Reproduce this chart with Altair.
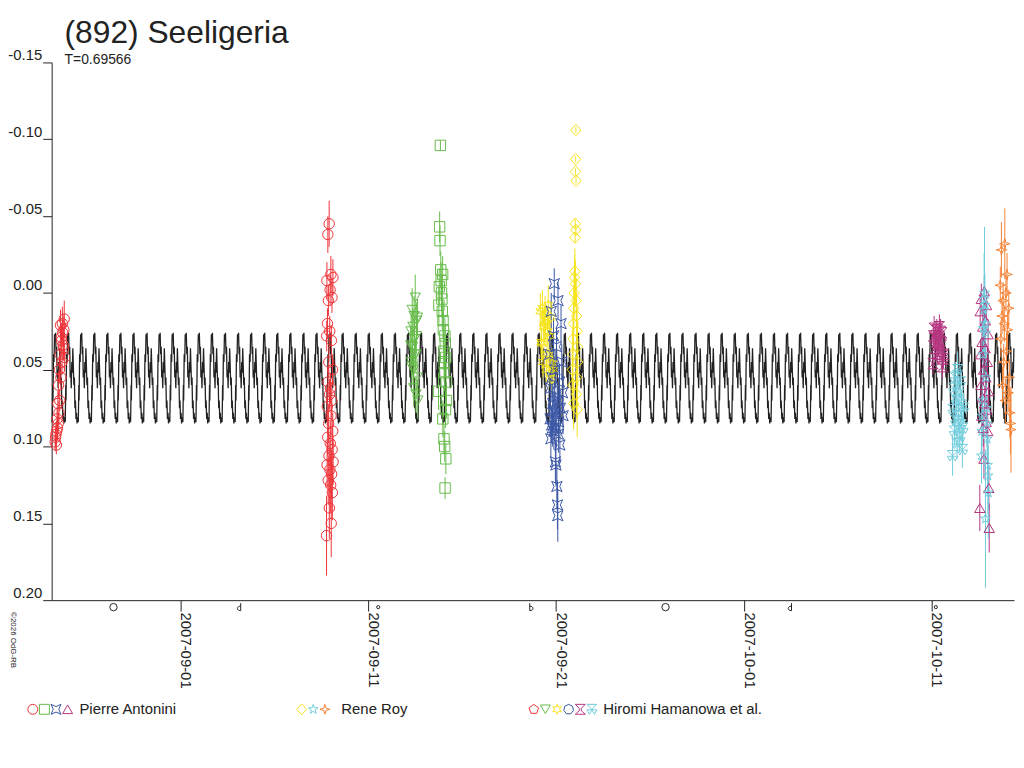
import altair as alt
import pandas as pd

BASE = pd.Timestamp("2007-09-01")
PERIOD = 0.69566
D0, D1 = -6.85, 44.37  # x-domain, days from 2007-09-01

# ---- composite lightcurve, one period (phase, mag) ----
profile_phase = [0.00, 0.04, 0.08, 0.10, 0.14, 0.18, 0.22, 0.26, 0.30, 0.34, 0.38, 0.42, 0.46,
                 0.50, 0.54, 0.58, 0.62, 0.66, 0.70, 0.74, 0.78, 0.82, 0.86, 0.90, 0.94, 0.98]
profile_mag = [0.083, 0.084, 0.060, 0.070, 0.040, 0.045, 0.027, 0.030, 0.026, 0.040, 0.035, 0.055,
               0.050, 0.062, 0.045, 0.052, 0.036, 0.048, 0.060, 0.055, 0.075, 0.070, 0.082, 0.078,
               0.085, 0.081]

# ---- observations: time (days from 2007-09-01), mag, error ----
c1_t = [-6.62, -6.66, -6.58, -6.64, -6.54, -6.60, -6.50, -6.56, -6.46, -6.52, -6.42, -6.48, -6.36,
        -6.44, -6.30, -6.40, -6.24, -6.34, -6.20, -6.28, -6.18, -6.38, -6.26, -6.32, -6.22, -6.16]
c1_m = [0.092, 0.097, 0.090, 0.094, 0.088, 0.099, 0.085, 0.082, 0.078, 0.072, 0.070, 0.060, 0.055,
        0.050, 0.045, 0.040, 0.034, 0.029, 0.024, 0.020, 0.017, 0.021, 0.026, 0.031, 0.036, 0.042]
c1_e = [0.008, 0.006, 0.007, 0.006, 0.008, 0.006, 0.007, 0.007, 0.008, 0.008, 0.007, 0.009, 0.008,
        0.009, 0.008, 0.009, 0.010, 0.009, 0.010, 0.011, 0.012, 0.010, 0.009, 0.010, 0.008, 0.009]

c2_t = [7.92, 7.85, 8.01, 7.80, 7.97, 8.07, 7.88, 8.12, 7.83, 7.95, 8.04, 7.79, 7.90, 8.10, 7.86,
        7.99, 8.06, 7.82, 7.94, 8.02, 7.89, 8.11, 7.84, 7.98, 8.08, 7.91, 8.13, 7.81, 7.96, 8.05,
        7.87, 8.00, 8.09, 7.93, 8.03, 7.78]
c2_m = [-0.045, -0.038, -0.012, -0.008, -0.002, 0.003, 0.005, -0.010, 0.020, 0.025, 0.031, 0.028,
        0.045, 0.050, 0.058, 0.062, 0.070, 0.074, 0.066, 0.080, 0.085, 0.090, 0.094, 0.098, 0.102,
        0.106, 0.110, 0.112, 0.115, 0.118, 0.122, 0.125, 0.130, 0.140, 0.150, 0.158]
c2_e = [0.015, 0.012, 0.012, 0.012, 0.010, 0.010, 0.010, 0.012, 0.010, 0.010, 0.010, 0.010, 0.010,
        0.010, 0.010, 0.010, 0.012, 0.012, 0.010, 0.012, 0.012, 0.012, 0.012, 0.014, 0.014, 0.014,
        0.015, 0.015, 0.015, 0.016, 0.016, 0.018, 0.018, 0.020, 0.022, 0.026]

c3_t = [12.40, 12.30, 12.52, 12.36, 12.46, 12.28, 12.58, 12.44, 12.34, 12.50, 12.62, 12.38, 12.56,
        12.26, 12.48, 12.32, 12.60, 12.42, 12.54, 12.64]
c3_m = [0.050, 0.045, 0.040, 0.035, 0.030, 0.025, 0.018, 0.015, 0.011, 0.003, 0.016, 0.022, 0.028,
        0.034, 0.040, 0.048, 0.055, 0.062, 0.066, 0.070]
c3_e = [0.010, 0.010, 0.010, 0.012, 0.012, 0.012, 0.012, 0.013, 0.014, 0.015, 0.012, 0.012, 0.012,
        0.012, 0.012, 0.012, 0.012, 0.012, 0.012, 0.012]

c4_t = [13.84, 13.80, 13.82, 13.86, 13.96, 13.88, 13.78, 13.90, 13.92, 13.76, 13.94, 13.98, 14.00,
        14.08, 14.10, 14.02, 14.12, 14.04, 14.06, 14.14, 13.74, 14.16, 14.11, 13.97, 14.03, 14.07,
        14.13, 14.09]
c4_m = [-0.096, -0.043, -0.034, -0.015, -0.012, -0.008, -0.004, 0.000, 0.004, 0.008, 0.012, 0.018,
        0.024, 0.028, 0.033, 0.038, 0.042, 0.046, 0.052, 0.058, 0.064, 0.070, 0.076, 0.082, 0.095,
        0.100, 0.108, 0.127]
c4_e = [0.003, 0.010, 0.010, 0.012, 0.012, 0.012, 0.012, 0.012, 0.012, 0.012, 0.012, 0.012, 0.012,
        0.012, 0.012, 0.012, 0.012, 0.012, 0.012, 0.012, 0.012, 0.012, 0.012, 0.012, 0.010, 0.010,
        0.010, 0.007]

c5_t = [19.48, 19.30, 19.62, 19.20, 19.55, 19.37, 19.72, 19.41, 19.27, 19.58, 19.16, 19.44, 19.34,
        19.65, 19.23, 19.51, 19.80, 19.69, 19.76, 19.84]
c5_m = [0.050, 0.045, 0.040, 0.032, 0.025, 0.020, 0.016, 0.014, 0.010, 0.008, 0.012, 0.018, 0.022,
        0.028, 0.033, 0.040, 0.046, 0.052, 0.056, 0.050]
c5_e = [0.010, 0.010, 0.010, 0.010, 0.010, 0.011, 0.011, 0.012, 0.012, 0.013, 0.012, 0.011, 0.011,
        0.010, 0.010, 0.010, 0.010, 0.010, 0.010, 0.010]

c6_t = [19.90, 20.10, 19.74, 20.26, 19.86, 20.02, 19.66, 20.30, 19.94, 19.78, 20.18, 19.70, 20.34,
        19.92, 20.06, 19.82, 20.22, 19.98, 20.37, 19.68, 20.14, 19.76, 20.00, 19.88, 20.12, 19.72,
        20.20, 19.80, 19.84, 19.96, 19.99, 20.04, 20.07, 20.09]
c6_m = [-0.006, 0.005, 0.012, 0.020, 0.028, 0.035, 0.040, 0.045, 0.050, 0.055, 0.058, 0.062, 0.065,
        0.068, 0.070, 0.072, 0.075, 0.078, 0.080, 0.082, 0.084, 0.086, 0.088, 0.090, 0.092, 0.095,
        0.099, 0.088, 0.076, 0.110, 0.112, 0.126, 0.138, 0.145]
c6_e = [0.010, 0.012, 0.012, 0.012, 0.012, 0.012, 0.012, 0.012, 0.012, 0.012, 0.012, 0.012, 0.012,
        0.012, 0.012, 0.012, 0.012, 0.012, 0.012, 0.012, 0.012, 0.012, 0.012, 0.012, 0.012, 0.012,
        0.012, 0.012, 0.012, 0.014, 0.014, 0.015, 0.016, 0.017]

c7_t = [21.05, 21.04, 21.03, 21.06, 21.02, 21.05, 21.01, 21.00, 20.98, 21.03, 20.96, 21.07, 20.94,
        21.09, 20.92, 21.11, 20.90, 21.13, 20.88, 21.15, 20.86, 21.10, 20.89, 21.08, 20.93, 21.12]
c7_m = [-0.106, -0.087, -0.079, -0.073, -0.045, -0.041, -0.036, -0.014, -0.010, -0.006, 0.000, 0.005,
        0.010, 0.015, 0.020, 0.025, 0.030, 0.035, 0.040, 0.045, 0.050, 0.055, 0.060, 0.066, 0.072, 0.076]
c7_e = [0.002, 0.002, 0.002, 0.002, 0.003, 0.003, 0.003, 0.015, 0.015, 0.015, 0.015, 0.015, 0.015,
        0.015, 0.015, 0.015, 0.015, 0.015, 0.015, 0.015, 0.015, 0.015, 0.016, 0.016, 0.017, 0.018]

c8_t = [40.33, 40.19, 40.46, 40.12, 40.40, 40.26, 40.53, 40.09, 40.36, 40.23, 40.50, 40.16, 40.43,
        40.29, 40.60, 40.06, 40.56, 40.63]
c8_m = [0.032, 0.028, 0.025, 0.023, 0.022, 0.024, 0.026, 0.028, 0.030, 0.032, 0.034, 0.036, 0.038,
        0.040, 0.043, 0.046, 0.048, 0.040]
c8_e = [0.007, 0.007, 0.008, 0.008, 0.008, 0.007, 0.007, 0.007, 0.007, 0.007, 0.007, 0.007, 0.007,
        0.007, 0.007, 0.007, 0.008, 0.007]

c9_t = [41.37, 41.24, 41.51, 41.17, 41.44, 41.30, 41.58, 41.13, 41.41, 41.27, 41.55, 41.20, 41.48,
        41.34, 41.62, 41.10, 41.65, 41.68]
c9_m = [0.050, 0.055, 0.058, 0.062, 0.066, 0.070, 0.073, 0.076, 0.080, 0.083, 0.086, 0.090, 0.094,
        0.098, 0.102, 0.106, 0.088, 0.075]
c9_e = [0.012, 0.010, 0.010, 0.010, 0.010, 0.010, 0.010, 0.010, 0.010, 0.010, 0.010, 0.010, 0.010,
        0.010, 0.012, 0.013, 0.010, 0.010]

c10_t = [42.79, 42.63, 42.91, 42.57, 42.85, 42.71, 42.99, 42.67, 42.83, 42.59, 42.95, 42.75, 42.87,
         42.61, 43.01, 42.69, 42.81, 42.93, 42.65, 42.89, 42.73, 42.97, 42.77, 43.03, 42.55, 43.05]
c10_m = [-0.001, 0.004, 0.008, 0.012, 0.018, 0.022, 0.027, 0.032, 0.036, 0.040, 0.045, 0.050, 0.055,
         0.060, 0.064, 0.068, 0.072, 0.076, 0.080, 0.084, 0.088, 0.090, 0.108, 0.127, 0.140, 0.153]
c10_e = [0.010, 0.010, 0.010, 0.010, 0.010, 0.010, 0.010, 0.010, 0.010, 0.010, 0.010, 0.010, 0.010,
         0.010, 0.010, 0.010, 0.010, 0.010, 0.010, 0.010, 0.012, 0.012, 0.013, 0.014, 0.015, 0.016]

c11_t = [42.80, 42.78, 42.82, 42.76, 42.84, 42.74, 42.86, 42.72, 42.88, 42.70, 42.90, 42.68, 42.92,
         42.66, 42.94, 42.64, 42.96, 42.98, 43.00, 42.85]
c11_m = [0.000, 0.004, 0.008, 0.011, 0.020, 0.023, 0.026, 0.040, 0.055, 0.070, 0.075, 0.080, 0.085,
         0.090, 0.095, 0.106, 0.112, 0.119, 0.130, 0.147]
c11_e = [0.043, 0.030, 0.020, 0.015, 0.015, 0.015, 0.015, 0.015, 0.015, 0.015, 0.015, 0.015, 0.015,
         0.015, 0.015, 0.018, 0.020, 0.025, 0.030, 0.045]

c12_t = [43.88, 43.70, 44.00, 43.64, 43.94, 43.79, 44.09, 43.73, 43.85, 44.03, 43.67, 43.97, 43.82,
         44.12, 43.76, 44.06, 43.91, 44.15, 44.18, 44.21]
c12_m = [-0.032, -0.028, -0.012, -0.005, 0.000, 0.005, 0.010, 0.015, 0.020, 0.024, 0.030, 0.038,
         0.045, 0.055, 0.060, 0.065, 0.070, 0.078, 0.085, 0.089]
c12_e = [0.023, 0.018, 0.014, 0.012, 0.012, 0.012, 0.012, 0.012, 0.012, 0.012, 0.012, 0.012, 0.012,
         0.012, 0.012, 0.012, 0.014, 0.016, 0.020, 0.028]

# ---- symbols & colours ----
RED, GREEN, BLUE, MAGENTA = "#EE3338", "#66BB4A", "#3A55A4", "#B5357F"
YELLOW, CYAN, ORANGE, INK = "#F5E31C", "#6FCCDD", "#F58233", "#222222"

SHAPES = {
    "circle": "circle",
    "square": "square",
    "xsquare": "M-1,-1L0,-0.55L1,-1L0.55,0L1,1L0,0.55L-1,1L-0.55,0Z",
    "tri_up": "triangle-up",
    "diamond": "M0,-1.1L1,0L0,1.1L-1,0Z",
    "star5": "M0,-1L0.235,-0.324L0.951,-0.309L0.38,0.124L0.588,0.809L0,0.4L-0.588,0.809L-0.38,0.124L-0.951,-0.309L-0.235,-0.324Z",
    "star4": "M0,-1L0.22,-0.22L1,0L0.22,0.22L0,1L-0.22,0.22L-1,0L-0.22,-0.22Z",
    "pentagon": "M0,-1L0.951,-0.309L0.588,0.809L-0.588,0.809L-0.951,-0.309Z",
    "tri_down": "triangle-down",
    "star6": "M0,-1L0.25,-0.433L0.866,-0.5L0.5,0L0.866,0.5L0.25,0.433L0,1L-0.25,0.433L-0.866,0.5L-0.5,0L-0.866,-0.5L-0.25,-0.433Z",
    "heptagon": "M0,-1L0.78,-0.62L0.97,0.22L0.43,0.9L-0.43,0.9L-0.97,0.22L-0.78,-0.62Z",
    "hourglass": "M-1,-1L1,-1L0.2,-0.2L0.2,0.3L1,1L-1,1L-0.2,0.3L-0.2,-0.2Z",
    "tri3": "M-1,-1L1,-1L0,0Z M-1,0.1L0,0.1L-0.5,1Z M0,0.1L1,0.1L0.5,1Z",
}

clusters = [
    (c1_t, c1_m, c1_e, RED, "circle"),
    (c2_t, c2_m, c2_e, RED, "circle"),
    (c3_t, c3_m, c3_e, GREEN, "tri_down"),
    (c4_t, c4_m, c4_e, GREEN, "square"),
    (c5_t, c5_m, c5_e, YELLOW, "star6"),
    (c6_t, c6_m, c6_e, BLUE, "xsquare"),
    (c7_t, c7_m, c7_e, YELLOW, "diamond"),
    (c8_t, c8_m, c8_e, MAGENTA, "hourglass"),
    (c9_t, c9_m, c9_e, CYAN, "tri3"),
    (c10_t, c10_m, c10_e, MAGENTA, "tri_up"),
    (c11_t, c11_m, c11_e, CYAN, "star5"),
    (c12_t, c12_m, c12_e, ORANGE, "star4"),
]

observers = ["Pierre Antonini", "Rene Roy", "Hiromi Hamanowa et al."]
observer_symbols = [
    [(RED, "circle"), (GREEN, "square"), (BLUE, "xsquare"), (MAGENTA, "tri_up")],
    [(YELLOW, "diamond"), (CYAN, "star5"), (ORANGE, "star4")],
    [(RED, "pentagon"), (GREEN, "tri_down"), (YELLOW, "star6"), (BLUE, "heptagon"),
     (MAGENTA, "hourglass"), (CYAN, "tri3")],
]

moon_dates = ["2007-08-28T10:35", "2007-09-04T02:32", "2007-09-11T12:44", "2007-09-19T16:48",
              "2007-09-26T19:45", "2007-10-03T10:06", "2007-10-11T05:01"]
moon_phases = ["full", "last", "new", "first", "full", "last", "new"]
MOON_SHAPES = {
    "full": ("circle", 55),
    "new": ("circle", 10),
    "last": ("M0.5,-1L0.5,0.9M0.5,-0.25C-0.6,-0.25 -0.6,0.9 0.5,0.9", 64),
    "first": ("M-0.5,-1L-0.5,0.9M-0.5,-0.25C0.6,-0.25 0.6,0.9 -0.5,0.9", 64),
}

tick_dates = ["2007-09-01", "2007-09-11", "2007-09-21", "2007-10-01", "2007-10-11"]

# ---- tables ----
def to_date(d):
    return BASE + pd.to_timedelta(d, unit="D")

curve_rows = []
k = 0
while True:
    start = D0 + k * PERIOD
    if start > D1:
        break
    for ph, mg in zip(profile_phase, profile_mag):
        t = start + ph * PERIOD
        if t <= D1:
            curve_rows.append({"date": to_date(t), "mag": mg})
    k += 1
curve_df = pd.DataFrame(curve_rows)

obs_rows = []
for ts, ms, es, col, shp in clusters:
    for t, m, e in zip(ts, ms, es):
        obs_rows.append({"date": to_date(t), "mag": m, "lo": m - e, "hi": m + e,
                         "color": col, "shape": SHAPES[shp]})
obs_df = pd.DataFrame(obs_rows)

moon_df = pd.DataFrame({
    "date": pd.to_datetime(moon_dates),
    "shape": [MOON_SHAPES[p][0] for p in moon_phases],
    "size": [MOON_SHAPES[p][1] for p in moon_phases],
})

FONT = "Liberation Sans"
W, H = 970, 542
x_dom = [alt.DateTime(year=2007, month=8, date=25, hours=3, minutes=36),
         alt.DateTime(year=2007, month=10, date=15, hours=8, minutes=53)]
tick_vals = [alt.DateTime(year=int(s[:4]), month=int(s[5:7]), date=int(s[8:10])) for s in tick_dates]


def X():
    return alt.X("date:T", scale=alt.Scale(domain=x_dom, nice=False),
                 axis=alt.Axis(values=tick_vals, format="%Y-%m-%d", labelAngle=90,
                               labelAlign="left", labelBaseline="alphabetic",
                               labelFontSize=15, labelFont=FONT, labelColor=INK,
                               labelPadding=1, tickSize=11, tickColor=INK, domainColor=INK,
                               labelOverlap=False, labelFlush=False, grid=False, title=None))


def Y(field="mag"):
    return alt.Y(f"{field}:Q",
                 scale=alt.Scale(domain=[-0.15, 0.20], reverse=True, nice=False, zero=False),
                 axis=alt.Axis(values=[-0.15, -0.10, -0.05, 0.0, 0.05, 0.10, 0.15, 0.20],
                               format=".2f", labelExpr="replace(datum.label, '\u2212', '-')",
                               labelFontSize=15, labelFont=FONT, labelColor=INK,
                               labelBaseline="alphabetic", labelOffset=-3, labelPadding=1,
                               tickSize=9, tickColor=INK, domainColor=INK,
                               labelFlush=False, labelOverlap=False, grid=False, title=None))


curve = alt.Chart(curve_df).mark_line(color=INK, strokeWidth=1.3).encode(x=X(), y=Y())

errs = alt.Chart(obs_df).mark_rule(strokeWidth=1).encode(
    x=X(), y=Y("lo"), y2="hi:Q", color=alt.Color("color:N", scale=None))

pts = alt.Chart(obs_df).mark_point(filled=False, strokeWidth=1, size=110, opacity=1).encode(
    x=X(), y=Y(), color=alt.Color("color:N", scale=None),
    shape=alt.Shape("shape:N", scale=None))

moon = alt.Chart(moon_df).mark_point(filled=False, strokeWidth=1, color=INK, opacity=1).encode(
    x=X(), y=alt.value(H + 7), shape=alt.Shape("shape:N", scale=None),
    size=alt.Size("size:Q", scale=None))

# ---- legend row (page positions converted to plot coords) ----
PLOT_LEFT = 52
LEG_Y = 712 - 60
legend_starts = [33, 304, 538]
legend_text_x = [80, 344, 608]
LEG_STEP = 11.7
legend_layers = []
for name, syms, x0, tx in zip(observers, observer_symbols, legend_starts, legend_text_x):
    for i, (col, shp) in enumerate(syms):
        legend_layers.append(
            alt.Chart(pd.DataFrame({"label": [name]})).mark_point(
                filled=False, strokeWidth=1, size=100, opacity=1, color=col, shape=SHAPES[shp]
            ).encode(x=alt.value(x0 - PLOT_LEFT + i * LEG_STEP), y=alt.value(LEG_Y)))
    legend_layers.append(
        alt.Chart(pd.DataFrame({"label": [name]})).mark_text(
            align="left", baseline="middle", fontSize=15, font=FONT, color=INK
        ).encode(x=alt.value(tx - PLOT_LEFT), y=alt.value(LEG_Y), text="label:N"))

copyright_txt = alt.Chart(pd.DataFrame({"label": ["\u00a92026 OdG-RB"]})).mark_text(
    angle=90, align="left", baseline="middle", fontSize=8, font=FONT, color=INK
).encode(x=alt.value(-39), y=alt.value(H + 12), text="label:N")

chart = alt.layer(curve, errs, pts, moon, copyright_txt, *legend_layers).properties(
    width=W, height=H,
    autosize=alt.AutoSizeParams(type="none"),
    padding={"left": 44, "top": 52, "right": 2, "bottom": 130},
    title=alt.TitleParams(text="(892) Seeligeria", subtitle="T=0.69566", anchor="start",
                          frame="group", dx=13, offset=-21, fontSize=32, fontWeight="normal",
                          font=FONT, color=INK, subtitleFont=FONT, subtitleFontSize=14,
                          subtitleColor=INK, subtitlePadding=4),
).configure(font=FONT).configure_view(strokeWidth=0, stroke=None)

chart.save("out.html", embed_options={"renderer": "svg", "actions": False})
